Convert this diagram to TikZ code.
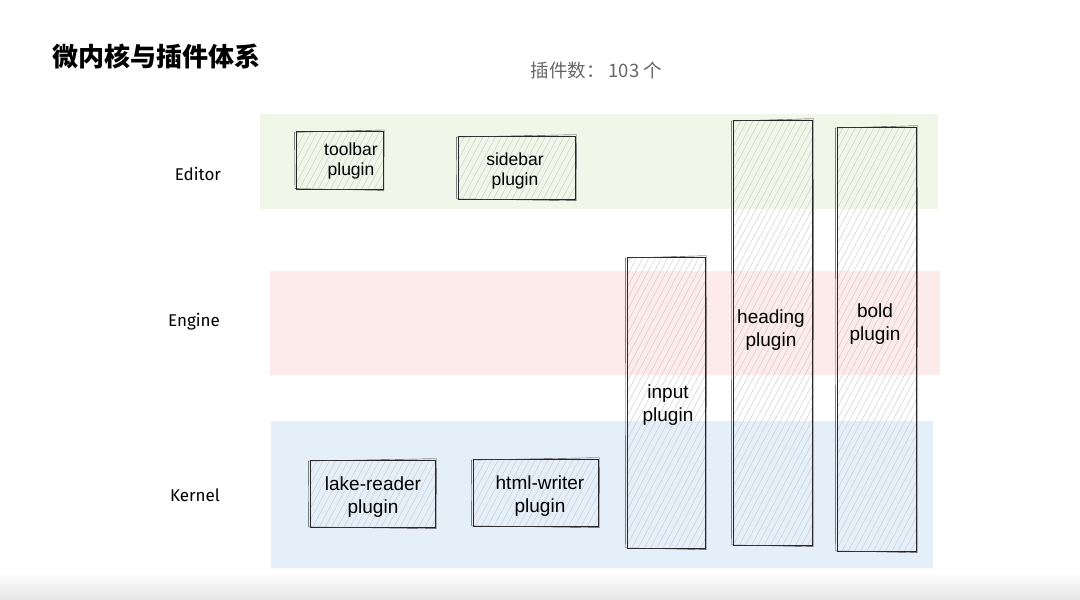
\documentclass[tikz,border=0pt]{standalone}
\usepackage{fontspec}
\setmainfont{Liberation Sans}
\newfontfamily\cjk{Noto Sans CJK SC}
\newfontfamily\hand{Fira Sans}
\usetikzlibrary{patterns.meta}

\definecolor{editorband}{RGB}{240,246,232}
\definecolor{engineband}{RGB}{253,234,234}
\definecolor{kernelband}{RGB}{228,239,250}

\begin{document}
\begin{tikzpicture}[
    x=1pt, y=-1pt,
    every node/.style={font=\fontsize{19}{23}\selectfont, align=center},
    plugbox/.style={draw=black!85, line width=1pt, inner sep=0pt,
        pattern={Lines[angle=62,distance=5.5pt,line width=0.45pt]},
        pattern color=black!20},
    small/.style={font=\fontsize{17.5}{20}\selectfont},
    layer/.style={font=\hand\fontsize{17}{20}\selectfont}
]

\useasboundingbox (0,0) rectangle (1080,600);

% === Bottom shadow ===
\shade[top color=white, bottom color=black!10, draw=none] (0,572) rectangle (1080,600);

% === Titles ===
\node[anchor=west, font=\cjk\bfseries\fontsize{26}{29}\selectfont] (title) at (49,57) {微内核与插件体系};
\node[anchor=west, text=black!60, font=\cjk\fontsize{18.5}{21}\selectfont] (count) at (527,70) {插件数： 103 个};

% === Layer bands ===
\fill[editorband] (260,114) rectangle (938,209);
\fill[engineband] (270,271) rectangle (940,375);
\fill[kernelband] (271,421) rectangle (933,568);

\node[layer] (editor) at (198,174) {Editor};
\node[layer] (engine) at (194,322) {Engine};
\node[layer] (kernel) at (195,495) {Kernel};

% === Plugin boxes ===
\node[plugbox, minimum width=87pt, minimum height=58pt] (toolbarbox) at (339.5,160) {};
\node[plugbox, minimum width=117pt, minimum height=63pt] (sidebarbox) at (516.5,167.5) {};
\node[plugbox, minimum width=78pt, minimum height=291pt] (inputbox) at (666,402.5) {};
\node[plugbox, minimum width=79pt, minimum height=425pt] (headingbox) at (772.5,332.5) {};
\node[plugbox, minimum width=79pt, minimum height=424pt] (boldbox) at (876.5,339) {};
\node[plugbox, minimum width=125pt, minimum height=67pt] (lakebox) at (372.5,493.5) {};
\node[plugbox, minimum width=125pt, minimum height=67pt] (htmlbox) at (535.5,492.5) {};

% second pencil stroke
\foreach \b in {toolbarbox,sidebarbox,inputbox,headingbox,boldbox,lakebox,htmlbox} {
    \draw[black!75, line width=0.4pt]
        ([shift={(-1.2,1.5)}]\b.north west) -- ([shift={(1,-0.8)}]\b.north east)
        -- ([shift={(0.6,1.2)}]\b.south east) -- ([shift={(-0.8,-0.6)}]\b.south west) -- cycle;
}

% === Plugin names ===
\node[small] (toolbar) at (351,161) {toolbar\\plugin};
\node[small] (sidebar) at (515,171) {sidebar\\plugin};
\node (input) at (668,405) {input\\plugin};
\node (heading) at (771,330) {heading\\plugin};
\node (bold) at (875,324) {bold\\plugin};
\node (lake) at (373,497) {lake-reader\\plugin};
\node (html) at (540,496) {html-writer\\plugin};

\end{tikzpicture}
\end{document}
